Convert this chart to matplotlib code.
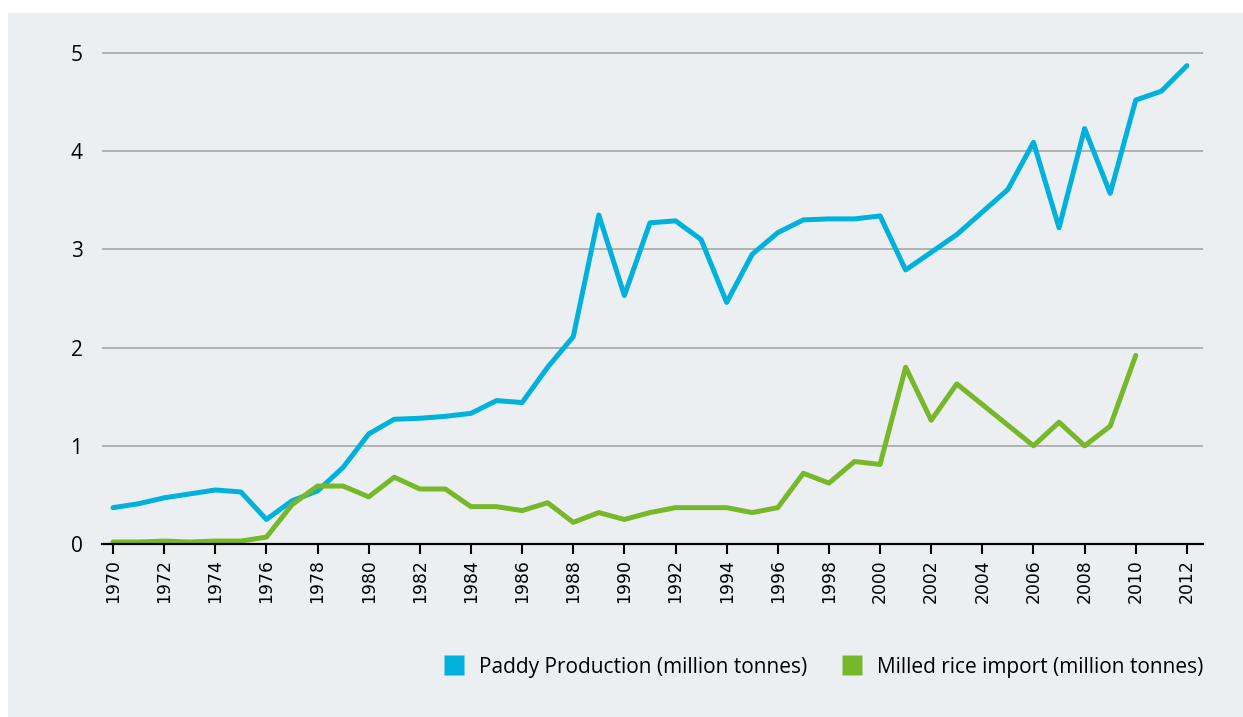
"""paddy production vs milled rice import"""

import matplotlib
matplotlib.use('Agg')
import matplotlib.pyplot as plt
from matplotlib.patches import Rectangle
from matplotlib.lines import Line2D

years = list(range(1970, 2013))
paddy = [0.37, 0.41, 0.47, 0.51, 0.55, 0.53, 0.25, 0.44, 0.54, 0.78,
         1.12, 1.27, 1.28, 1.30, 1.33, 1.46, 1.44, 1.80, 2.11, 3.35,
         2.53, 3.27, 3.29, 3.10, 2.46, 2.95, 3.17, 3.30, 3.31, 3.31,
         3.34, 2.79, 2.97, 3.15, 3.38, 3.61, 4.09, 3.22, 4.23, 3.57,
         4.52, 4.61, 4.87]
import_years = list(range(1970, 2011))
milled = [0.02, 0.02, 0.03, 0.02, 0.03, 0.03, 0.07, 0.40, 0.59, 0.59,
          0.48, 0.68, 0.56, 0.56, 0.38, 0.38, 0.34, 0.42, 0.22, 0.32,
          0.25, 0.32, 0.37, 0.37, 0.37, 0.32, 0.37, 0.72, 0.62, 0.84,
          0.81, 1.80, 1.26, 1.63, 1.42, 1.21, 1.00, 1.24, 1.00, 1.20,
          1.92]
labels = ['Paddy Production (million tonnes)', 'Milled rice import (million tonnes)']

BLUE = '#00b1db'
GREEN = '#76b82a'
BG = '#eceff2'

fig = plt.figure(figsize=(12.43, 7.17), dpi=100, facecolor='white')
fig.patches.append(Rectangle((8 / 1243, 0), 1, 1 - 13 / 717, transform=fig.transFigure,
                             facecolor=BG, edgecolor='none', zorder=-10))

ax = fig.add_axes([102 / 1243, 1 - 544 / 717, (1203 - 102) / 1243, (544 - 48) / 717])
ax.set_facecolor('none')

ax.plot(years, paddy, c=BLUE, lw=3.6, solid_joinstyle='round', solid_capstyle='round', zorder=3)
ax.plot(import_years, milled, c=GREEN, lw=3.6, solid_joinstyle='round', solid_capstyle='round', zorder=3)

ax.set_xlim(1969.57, 2012.63)
ax.set_ylim(0, 5.05)
ax.set_yticks([0, 1, 2, 3, 4, 5])
ax.set_xticks(range(1970, 2013, 2))
ax.set_xticklabels([str(y) for y in range(1970, 2013, 2)], rotation=90, fontsize=12.4,
                   family='DejaVu Sans')
ax.set_yticklabels(['0', '1', '2', '3', '4', '5'], fontsize=15, family='Open Sans')

for v in [1, 2, 3, 4, 5]:
    ax.axhline(v, c='#a6a6a6', lw=1.2, zorder=1)

for s in ['top', 'right', 'left']:
    ax.spines[s].set_visible(False)
ax.spines['bottom'].set_linewidth(1.6)
ax.spines['bottom'].set_zorder(4)
ax.tick_params(axis='y', length=0, pad=14)
ax.tick_params(axis='x', length=7, width=1.5, pad=4)

# legend: square swatches below the plot, flush with the right edge
handles = [Line2D([], [], ls='none', marker='s', ms=14, mfc=BLUE, mec='none'),
           Line2D([], [], ls='none', marker='s', ms=14, mfc=GREEN, mec='none')]
fig.legend(handles, labels, loc='center right', bbox_to_anchor=(1203 / 1243, 1 - 667 / 717),
           ncol=2, frameon=False, handlelength=1.0, handletextpad=0.67, columnspacing=1.68,
           borderpad=0, borderaxespad=0, prop={'family': 'Open Sans', 'size': 15})

fig.savefig('out.png', dpi=100, facecolor='white')
